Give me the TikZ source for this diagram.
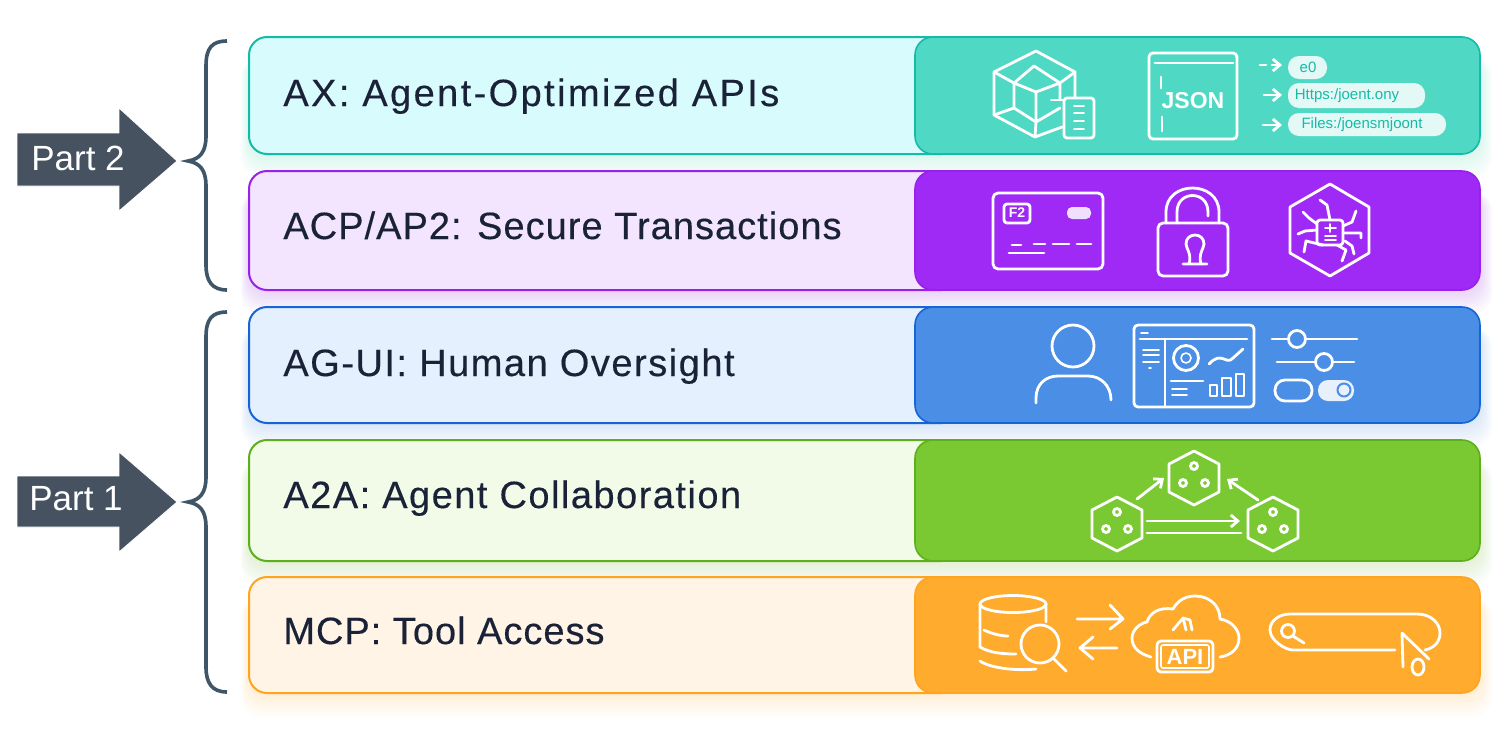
\documentclass[tikz,border=0pt]{standalone}
\usepackage{fontspec}
\setmainfont{Liberation Sans}
\newfontfamily\rowfont[FakeBold=0.35]{Liberation Sans}
\usetikzlibrary{arrows.meta, positioning}
\definecolor{axTint}{HTML}{D8FBFD}
\definecolor{axMain}{HTML}{4FD9C4}
\definecolor{axEdge}{HTML}{14BBA8}
\definecolor{acpTint}{HTML}{F2E5FD}
\definecolor{acpMain}{HTML}{A02AF5}
\definecolor{acpEdge}{HTML}{9A20EC}
\definecolor{agTint}{HTML}{E4F0FD}
\definecolor{agMain}{HTML}{4A8EE6}
\definecolor{agEdge}{HTML}{1565D8}
\definecolor{aaTint}{HTML}{F1FBE8}
\definecolor{aaMain}{HTML}{7AC932}
\definecolor{aaEdge}{HTML}{5DB01C}
\definecolor{mcpTint}{HTML}{FFF4E5}
\definecolor{mcpMain}{HTML}{FFAB2E}
\definecolor{mcpEdge}{HTML}{FFA41F}
\definecolor{slateFill}{HTML}{46525F}
\definecolor{braceInk}{HTML}{3F5568}
\definecolor{labelInk}{HTML}{1A2238}
\tikzset{
  tintbox/.style  = {rounded corners=9pt, line width=1pt},
  mainbox/.style  = {rounded corners=9pt, line width=0.8pt},
  rowlbl/.style   = {anchor=base west, inner sep=0pt, text=labelInk,
                     font=\rowfont\fontsize{19}{21}\selectfont},
  partlbl/.style  = {inner sep=0pt, text=white, font=\fontsize{17.5}{20}\selectfont},
  partarrow/.style= {fill=slateFill, draw=white, line width=0.4pt},
  bracket/.style  = {braceInk, line width=1.8pt},
  icon/.style     = {white, line width=1.4pt, line cap=round, line join=round},
  thin icon/.style= {white, line width=0.8pt, line cap=round, line join=round},
  iconhead/.style = {-{Straight Barb[length=3.5pt,width=6pt]}},
}
\begin{document}
\begin{tikzpicture}[x=0.5pt, y=-0.5pt]
\useasboundingbox (0,0) rectangle (1510,729);
\fill[white] (0,0) rectangle (1510,729);

% ---- soft glow falling under the rows --------------------------------------
\foreach \ytop/\ybot/\main in {37/154/axMain, 171/290/acpMain, 307/423/agMain,
                               440/561/aaMain, 577/693/mcpMain} {
  \foreach \g in {24,21,18,15,12,9,6,3} {
    \fill[\main, opacity=0.022, rounded corners=10pt]
      (249-\g/3,\ytop+20) rectangle (1480+\g/2,\ybot+\g);
  }
}

% ---- the five rows ---------------------------------------------------------
\foreach \rowname/\ytop/\ybot/\base/\tint/\main/\edge/\spc/\txt in {
    ax/37/154/106/axTint/axMain/axEdge/6.3/{AX: Agent-Optimized APIs},
    acp/171/290/239/acpTint/acpMain/acpEdge/2.7/{ACP/AP2: Secure Transactions},
    ag/307/423/376/agTint/agMain/agEdge/4/{AG-UI: Human Oversight},
    aa/440/561/508/aaTint/aaMain/aaEdge/3.9/{A2A: Agent Collaboration},
    mcp/577/693/644/mcpTint/mcpMain/mcpEdge/2.6/{MCP: Tool Access}} {
  \draw[tintbox, draw=\edge, fill=\tint] (249,\ytop) rectangle (960,\ybot);
  \draw[mainbox, draw=\edge, fill=\main] (915,\ytop) rectangle (1480,\ybot);
  \node[rowlbl] (\rowname) at (283,\base) {\addfontfeature{LetterSpace=\spc}\txt};
}

% ---- part arrows and braces ------------------------------------------------
\draw[partarrow] (17,133) -- (119,133) -- (119,108) -- (177,161) -- (119,211)
  -- (119,186) -- (17,186) -- cycle;
\node[partlbl] (part2) at (78,158) {Part 2};
\draw[partarrow] (17,476) -- (119,476) -- (119,452) -- (177,502) -- (119,552)
  -- (119,527) -- (17,527) -- cycle;
\node[partlbl] (part1) at (76,499) {Part 1};

\draw[bracket] (227,41) .. controls (212,41) and (206,48) .. (206,66) -- (206,136)
  .. controls (206,152) and (200,159) .. (188,161)
  .. controls (200,163) and (206,170) .. (206,186) -- (206,265)
  .. controls (206,281) and (212,290) .. (227,290);
\draw[bracket] (227,312) .. controls (212,312) and (206,319) .. (206,337) -- (206,477)
  .. controls (206,493) and (200,500) .. (188,502)
  .. controls (200,504) and (206,511) .. (206,527) -- (206,667)
  .. controls (206,683) and (212,692) .. (227,692);

% ---- ax icons --------------------------------------------------------------
\draw[icon] (1036,51) -- (1075,72) -- (1075,97) (1036,51) -- (994,72) -- (994,115)
  -- (1035,137) -- (1062,127);
\draw[icon] (1034,66) -- (1014,83) -- (1014,108) -- (1036,122) -- (1060,108) (1034,66)
  -- (1060,83) -- (1060,100) (1014,83) -- (1036,92) -- (1060,83) (1036,92) -- (1036,122)
  -- (1035,137) (994,72) -- (1014,83) (1075,72) -- (1060,83) (994,115) -- (1014,108);
\draw[icon, rounded corners=1.5pt] (1064,98) rectangle (1094,138);
\draw[thin icon] (1051,100) -- (1063,100) (1074,106) -- (1084,106) (1074,113) -- (1084,113)
  (1074,121) -- (1084,121) (1074,129) -- (1084,129);

\draw[icon, rounded corners=2pt] (1149,53) rectangle (1237,139);
\draw[icon] (1155,63) -- (1233,63);
\draw[icon] (1161,77) -- (1161,88) (1162,117) -- (1162,131);
\node[text=white, inner sep=0pt, font=\fontsize{11.5}{12}\selectfont\bfseries] (jsonlbl)
  at (1193,101) {JSON};

\draw[icon, iconhead, dashed] (1260,65) -- (1282,65);
\draw[icon, iconhead] (1264,95) -- (1282,95);
\draw[icon, iconhead] (1263,125) -- (1282,125);
\foreach \px/\py/\qx/\qy/\cx/\plbl/\pname in {
    1288/56/1327/79/1308/e0/pillone,
    1288/83/1425/108/1347/{Https:/joent.ony}/pilltwo,
    1288/113/1446/136/1362/{Files:/joensmjoont}/pillthree} {
  \fill[white, opacity=0.85, rounded corners=5.5pt] (\px,\py) rectangle (\qx,\qy);
  \node[text=axEdge, inner sep=0pt, font=\fontsize{7.5}{8}\selectfont] (\pname)
    at (\cx,{(\py+\qy)/2}) {\plbl};
}

% ---- acp icons -------------------------------------------------------------
\draw[icon, rounded corners=2.5pt] (993,193) rectangle (1103,269);
\draw[icon, rounded corners=1.5pt] (1004,204) rectangle (1030,223);
\node[text=white, inner sep=0pt, font=\fontsize{7}{7}\selectfont\bfseries] (cardchip)
  at (1017,213) {F2};
\fill[white, opacity=0.85, rounded corners=2.5pt] (1067,207) rectangle (1091,219);
\draw[icon] (1012,245) -- (1021,245) (1034,244) -- (1045,244) (1053,244) -- (1069,244)
  (1077,244) -- (1091,244) (1009,253) -- (1044,253);

\draw[icon, rounded corners=2.5pt] (1158,223) rectangle (1228,276);
\draw[icon] (1166,223) -- (1166,212) .. controls (1166,180) and (1219,180) .. (1219,212)
  -- (1219,223);
\draw[icon] (1177,223) -- (1177,212) .. controls (1177,190) and (1208,190) .. (1208,212)
  -- (1208,216);
\draw[icon] (1183,264) -- (1207,264) (1189,264) .. controls (1192,254) and (1186,248) .. (1186,244)
  .. controls (1186,232) and (1204,232) .. (1204,244)
  .. controls (1204,248) and (1198,254) .. (1201,264);

\draw[icon] (1330,184) -- (1369,207) -- (1369,253) -- (1330,276) -- (1290,253) -- (1290,207) -- cycle;
\draw[icon, rounded corners=1.5pt] (1317,220) rectangle (1343,245);
\draw[thin icon] (1325,228) -- (1336,228) (1330,224) -- (1330,232) (1325,236) -- (1336,236)
  (1325,240) -- (1336,240);
\draw[icon] (1330,220) -- (1327,205) -- (1320,200) (1343,226) -- (1352,222) -- (1356,211)
  (1317,230) -- (1305,231) -- (1298,234) (1343,233) -- (1361,233) -- (1361,238)
  (1323,245) -- (1306,241) -- (1304,252) (1337,245) -- (1346,250) -- (1342,261)
  (1317,224) -- (1309,218) -- (1303,212) (1345,241) -- (1352,246) -- (1354,254);

% ---- ag icons --------------------------------------------------------------
\draw[icon] (1073,346) circle (21);
\draw[icon] (1036,403) -- (1036,398) .. controls (1036,384) and (1046,376) .. (1058,376)
  -- (1088,376) .. controls (1101,376) and (1111,386) .. (1111,400);

\draw[icon, rounded corners=2pt] (1134,325) rectangle (1254,407);
\draw[icon] (1140,339) -- (1247,339) (1165,339) -- (1165,407);
\draw[thin icon] (1141,333) -- (1148,333) (1143,350) -- (1159,350) (1143,355) -- (1159,355)
  (1143,362) -- (1159,362) (1149,368) -- (1151,368);
\draw[icon] (1186,358) circle (12.5);
\draw[thin icon] (1186,358) circle (5);
\draw[icon] (1209,364) .. controls (1222,350) and (1226,366) .. (1233,358) -- (1243,349);
\draw[icon] (1171,381) -- (1203,381);
\draw[thin icon] (1172,389) -- (1187,389) (1172,395) -- (1187,395);
\draw[icon] (1210,396) -- (1210,385) -- (1217,385) -- (1217,396) -- cycle
  (1222,396) -- (1222,378) -- (1231,378) -- (1231,396) -- cycle
  (1236,396) -- (1236,374) -- (1244,374) -- (1244,396) -- cycle;

\draw[icon] (1272,339) -- (1287,339) (1306,339) -- (1357,339);
\draw[icon] (1297,339) circle (8.5);
\draw[icon] (1277,362) -- (1314,362) (1334,362) -- (1354,362);
\draw[icon] (1324,362) circle (8.5);
\draw[icon, rounded corners=5pt] (1275,380) rectangle (1312,401);
\fill[white, opacity=0.88, rounded corners=5pt] (1318,380) rectangle (1354,401);
\draw[line width=1pt, agMain] (1344,390) circle (6.5);

% ---- aa icons --------------------------------------------------------------
\foreach \hx/\hy in {1194/478, 1117/524, 1273/524} {
  \draw[icon] (\hx,\hy-27) -- (\hx+25,\hy-14) -- (\hx+25,\hy+14) -- (\hx,\hy+27)
    -- (\hx-25,\hy+14) -- (\hx-25,\hy-14) -- cycle;
  \foreach \dx/\dy in {0/-12, -11/5, 11/5} {
    \draw[icon] (\hx+\dx,\hy+\dy) circle (3.5);
  }
}
\draw[icon, iconhead] (1137,499) -- (1164,478);
\draw[icon, iconhead] (1258,500) -- (1227,479);
\draw[icon, iconhead] (1147,521) -- (1240,521);
\draw[icon] (1147,533) -- (1241,533);

% ---- mcp icons -------------------------------------------------------------
\draw[icon] (1013,604) ellipse (33 and 8.5);
\draw[icon] (980,604) -- (980,647) .. controls (990,653) and (1003,654) .. (1016,654)
  (1046,604) -- (1046,622) (984,630) .. controls (990,633) and (1000,636) .. (1008,636)
  (980,661) .. controls (990,668) and (1015,671) .. (1036,669);
\draw[icon] (1040,644) ellipse (19 and 19);
\draw[icon] (1054,659) -- (1066,671);
\draw[icon] (1077,619) -- (1122,619) (1110,605) -- (1123,619) -- (1110,629);
\draw[icon] (1117,648) -- (1081,648) (1093,637) -- (1080,648) -- (1093,659);
\draw[icon] (1151,657) .. controls (1140,654) and (1132,648) .. (1132,638)
  .. controls (1132,630) and (1140,623) .. (1147,622)
  .. controls (1150,612) and (1160,607) .. (1173,609)
  .. controls (1178,600) and (1186,596) .. (1195,596)
  .. controls (1210,596) and (1220,606) .. (1220,619)
  .. controls (1232,621) and (1239,630) .. (1239,638)
  .. controls (1239,648) and (1232,655) .. (1220,657);
\draw[icon, rounded corners=2pt] (1157,641) rectangle (1213,672);
\draw[thin icon, rounded corners=1pt] (1161,645) rectangle (1209,668);
\node[text=white, inner sep=0pt, font=\fontsize{11}{12}\selectfont\bfseries] (apilbl)
  at (1185,657) {API};
\draw[icon] (1173,630) -- (1183,618) -- (1190,620) -- (1192,630) (1183,618) -- (1186,630);
\draw[icon] (1395,650) -- (1293,650) .. controls (1285,650) and (1270,640) .. (1270,630)
  .. controls (1270,620) and (1280,614) .. (1290,614) -- (1417,614)
  .. controls (1432,614) and (1440,624) .. (1440,633)
  .. controls (1440,642) and (1434,648) .. (1425,650);
\draw[icon] (1288,631) circle (6.5);
\draw[icon] (1293,636) -- (1304,643);
\draw[icon] (1402,633) -- (1403,667) (1402,633) -- (1429,659);
\draw[icon] (1418,667) ellipse (6 and 8);

\end{tikzpicture}
\end{document}
